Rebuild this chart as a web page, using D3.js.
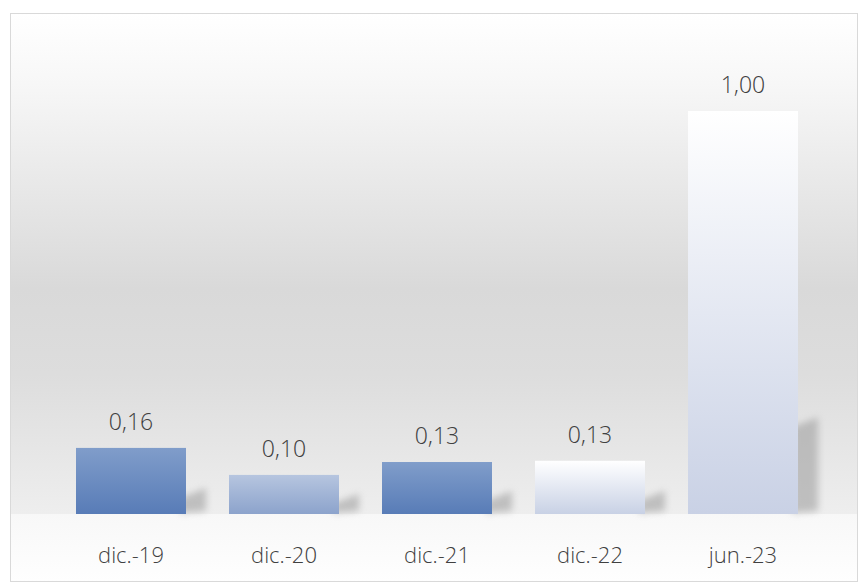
<!DOCTYPE html>
<html lang="es">
<head>
<meta charset="utf-8">
<title>Chart</title>
<script src="https://cdn.jsdelivr.net/npm/d3@7"></script>
<style>
  body { margin: 0; background: #fff; }
  text { font-family: "Open Sans Light", "Open Sans", "Segoe UI", sans-serif; font-weight: 300; fill: #404040; }
</style>
</head>
<body>
<svg width="861" height="585"></svg>
<script>
  // data
  var categories = ['dic.-19', 'dic.-20', 'dic.-21', 'dic.-22', 'jun.-23'];
  var values = [0.164, 0.097, 0.129, 0.132, 1.00];
  var barColors = [
    ['#809dca', '#587cb7'],
    ['#b6c5df', '#8ca3cc'],
    ['#809dca', '#587cb7'],
    ['#ffffff', '#c8d1e5'],
    ['#ffffff', '#c9d1e5']
  ];

  var svg = d3.select('svg');
  var defs = svg.append('defs');
  var baseY = 514, topY = 111;

  var bg = defs.append('linearGradient').attr('id', 'bg')
    .attr('x1', 0).attr('y1', 0).attr('x2', 0).attr('y2', 1);
  bg.append('stop').attr('offset', '0%').attr('stop-color', '#ffffff');
  bg.append('stop').attr('offset', '14%').attr('stop-color', '#f7f7f7');
  bg.append('stop').attr('offset', '55%').attr('stop-color', '#d9d9d9');
  bg.append('stop').attr('offset', '72%').attr('stop-color', '#dddddd');
  bg.append('stop').attr('offset', '100%').attr('stop-color', '#eeeeee');

  var bottomBg = defs.append('linearGradient').attr('id', 'bottomBg')
    .attr('x1', 0).attr('y1', 0).attr('x2', 0).attr('y2', 1);
  bottomBg.append('stop').attr('offset', '0%').attr('stop-color', '#f8f8f8');
  bottomBg.append('stop').attr('offset', '100%').attr('stop-color', '#fefefe');

  barColors.forEach(function(c, i) {
    var g = defs.append('linearGradient').attr('id', 'bar' + i)
      .attr('x1', 0).attr('y1', 0).attr('x2', 0).attr('y2', 1);
    g.append('stop').attr('offset', '0%').attr('stop-color', c[0]);
    g.append('stop').attr('offset', '100%').attr('stop-color', c[1]);
  });

  defs.append('filter').attr('id', 'blur')
    .attr('x', '-50%').attr('y', '-50%').attr('width', '200%').attr('height', '200%')
    .append('feGaussianBlur').attr('stdDeviation', 3.5);

  // chart area
  svg.append('rect').attr('x', 10.5).attr('y', 13.5).attr('width', 847).attr('height', baseY - 13)
    .attr('fill', 'url(#bg)');
  svg.append('rect').attr('x', 10.5).attr('y', baseY + 0.5).attr('width', 847).attr('height', 581 - baseY)
    .attr('fill', 'url(#bottomBg)');
  svg.append('rect').attr('x', 10.5).attr('y', 13.5).attr('width', 847).attr('height', 568)
    .attr('fill', 'none').attr('stroke', '#d9d9d9');

  var x = d3.scaleBand().domain(categories).range([54.5, 819.5]).paddingInner(0.281).paddingOuter(0.1405);
  var y = d3.scaleLinear().domain([0, 1]).range([baseY, topY]);

  var rows = categories.map(function(c, i) { return {cat: c, val: values[i], i: i}; });

  // perspective shadows
  svg.selectAll('path.shadow').data(rows).enter().append('path')
    .attr('class', 'shadow')
    .attr('d', function(d) {
      var x1 = x(d.cat) + x.bandwidth();
      var h = (baseY - y(d.val)) * 0.21 + 10;
      return 'M' + (x1 - 6) + ',' + (baseY - 1) +
        'L' + (x1 - 6) + ',' + (baseY - h + 8) +
        'L' + (x1 + 20) + ',' + (baseY - h - 2) +
        'L' + (x1 + 20) + ',' + (baseY - 3) + 'Z';
    })
    .attr('fill', '#9a9a9a')
    .attr('opacity', 0.55)
    .attr('filter', 'url(#blur)');

  svg.selectAll('rect.bar').data(rows).enter().append('rect')
    .attr('class', 'bar')
    .attr('x', function(d) { return x(d.cat); })
    .attr('y', function(d) { return y(d.val); })
    .attr('width', x.bandwidth())
    .attr('height', function(d) { return baseY - y(d.val); })
    .attr('fill', function(d) { return 'url(#bar' + d.i + ')'; });

  var fmt = function(v) { return v.toFixed(2).replace('.', ','); };

  svg.selectAll('text.val').data(rows).enter().append('text')
    .attr('class', 'val')
    .attr('x', function(d) { return x(d.cat) + x.bandwidth() / 2; })
    .attr('y', function(d) { return y(d.val) - 18; })
    .attr('text-anchor', 'middle')
    .style('font-size', '23px')
    .text(function(d) { return fmt(d.val); });

  var axis = d3.axisBottom(x).tickSize(0).tickPadding(0);
  var ax = svg.append('g').attr('transform', 'translate(0,' + baseY + ')').call(axis);
  ax.select('.domain').remove();
  ax.selectAll('text')
    .attr('dy', null)
    .attr('y', 49)
    .style('font-size', '22px')
    .style('fill', '#404040')
    .attr('font-family', null);
</script>
</body>
</html>
